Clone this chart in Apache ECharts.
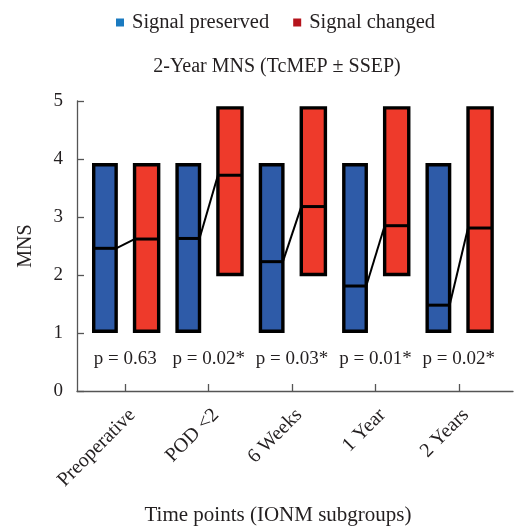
<!DOCTYPE html>
<html>
<head>
<meta charset="utf-8">
<script src="https://cdn.jsdelivr.net/npm/echarts@6/dist/echarts.min.js"></script>
<style>html,body{margin:0;padding:0;background:#fff;}#c{width:516px;height:531px;}</style>
</head>
<body>
<div id="c"></div>
<script>
const categories = ['Preoperative', 'POD <2', '6 Weeks', '1 Year', '2 Years'];
const preservedLow = [1, 1, 1, 1, 1];
const preservedHigh = [3.93, 3.93, 3.93, 3.93, 3.93];
const preservedMean = [2.46, 2.63, 2.23, 1.81, 1.48];
const changedLow = [1, 1.98, 1.98, 1.98, 1];
const changedHigh = [3.93, 4.91, 4.91, 4.91, 4.91];
const changedMean = [2.62, 3.72, 3.18, 2.85, 2.81];
const pLabels = ['p = 0.63', 'p = 0.02*', 'p = 0.03*', 'p = 0.01*', 'p = 0.02*'];
const yTicks = [0, 1, 2, 3, 4, 5];

const FONT = '"Liberation Serif", "DejaVu Serif", serif';
const BLUE = '#2e5ba8', RED = '#ee3a2b';
const SW = 3.4;

function boxRender(off0, off1, color) {
  return function (params, api) {
    const i = api.value(0);
    const pTL = api.coord([i + off0, api.value(2)]);
    const pBR = api.coord([i + off1, api.value(1)]);
    const pM = api.coord([i + off0, api.value(3)]);
    const h = SW / 2;
    return {
      type: 'group',
      children: [
        { type: 'rect', shape: { x: pTL[0] + h, y: pTL[1] + h, width: pBR[0] - pTL[0] - SW, height: pBR[1] - pTL[1] - SW },
          style: { fill: color, stroke: '#000', lineWidth: SW } },
        { type: 'line', shape: { x1: pTL[0] + h, y1: pM[1], x2: pBR[0] - h, y2: pM[1] },
          style: { stroke: '#000', lineWidth: 3 } }
      ]
    };
  };
}

const chart = echarts.init(document.getElementById('c'), null, { renderer: 'canvas' });
chart.setOption({
  animation: false,
  backgroundColor: '#fff',
  title: {
    text: '2-Year MNS (TcMEP \u00b1 SSEP)',
    left: 272, top: 52, textAlign: 'center',
    textStyle: { fontFamily: FONT, fontSize: 20, fontWeight: 'normal', color: '#231f20' }
  },
  legend: {
    left: 111, top: 7,
    itemWidth: 8, itemHeight: 8, itemGap: 24,
    icon: 'rect',
    textStyle: { fontFamily: FONT, fontSize: 20.5, color: '#231f20', padding: [0, 0, 0, 3] },
    data: [
      { name: 'Signal preserved', itemStyle: { color: '#1a7ac0' } },
      { name: 'Signal changed', itemStyle: { color: '#b5141c' } }
    ]
  },
  grid: { left: 77, right: 3, top: 101, bottom: 139 },
  xAxis: {
    type: 'value', min: -0.58, max: 4.65,
    name: 'Time points (IONM subgroups)', nameLocation: 'middle', nameGap: 114,
    nameTextStyle: { fontFamily: FONT, fontSize: 21, color: '#231f20', padding: [0, 34, 0, 0] },
    splitLine: { show: false },
    axisLine: { onZero: false, lineStyle: { color: '#555', width: 1.3 } },
    axisTick: { show: true, inside: true, length: 7, customValues: [0, 1, 2, 3, 4], lineStyle: { color: '#555', width: 1.3 } },
    axisLabel: {
      customValues: [0, 1, 2, 3, 4], rotate: 45, margin: 14, verticalAlign: 'top',
      fontFamily: FONT, fontSize: 20, color: '#231f20',
      formatter: v => categories[Math.round(v)]
    }
  },
  yAxis: {
    type: 'value', min: 0, max: 5, interval: 1,
    name: 'MNS', nameLocation: 'middle', nameGap: 41,
    nameTextStyle: { fontFamily: FONT, fontSize: 20, color: '#231f20' },
    splitLine: { show: false },
    axisLine: { show: true, onZero: false, lineStyle: { color: '#555', width: 1.3 } },
    axisTick: { show: true, inside: true, length: 7, lineStyle: { color: '#555', width: 1.3 } },
    axisLabel: { margin: 14, fontFamily: FONT, fontSize: 19, color: '#231f20', formatter: v => yTicks.includes(v) ? String(v) : '' }
  },
  series: [
    {
      name: 'Signal preserved', type: 'custom',
      renderItem: boxRender(-0.40, -0.09, BLUE),
      encode: { x: 0, y: [1, 2, 3] },
      data: categories.map((c, i) => [i, preservedLow[i], preservedHigh[i], preservedMean[i]])
    },
    {
      name: 'Signal changed', type: 'custom',
      renderItem: boxRender(0.09, 0.42, RED),
      encode: { x: 0, y: [1, 2, 3] },
      data: categories.map((c, i) => [i, changedLow[i], changedHigh[i], changedMean[i]])
    },
    {
      name: 'link', type: 'custom',
      renderItem: function (params, api) {
        const i = api.value(0);
        const a = api.coord([i - 0.09, api.value(1)]);
        const b = api.coord([i + 0.09, api.value(2)]);
        return { type: 'line', shape: { x1: a[0] - SW / 2, y1: a[1], x2: b[0] + SW / 2, y2: b[1] }, style: { stroke: '#000', lineWidth: 2 } };
      },
      encode: { x: 0, y: [1, 2] },
      data: categories.map((c, i) => [i, preservedMean[i], changedMean[i]])
    },
    {
      name: 'p', type: 'custom',
      renderItem: function (params, api) {
        const i = api.value(0);
        const p = api.coord([i, api.value(1)]);
        return { type: 'text', x: p[0], y: p[1], style: { text: pLabels[i], fontFamily: FONT, fontSize: 19, fill: '#231f20', align: 'center', verticalAlign: 'middle' } };
      },
      encode: { x: 0, y: 1 },
      data: categories.map((c, i) => [i, 0.55])
    }
  ]
});
</script>
</body>
</html>
